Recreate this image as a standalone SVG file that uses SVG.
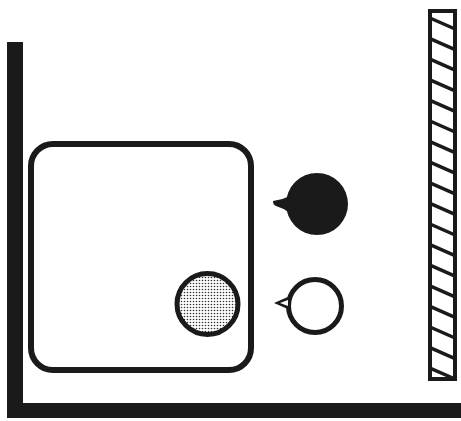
<svg xmlns="http://www.w3.org/2000/svg" width="461" height="421" viewBox="0 0 461 421">
<style>
.ln{fill:none;stroke:#1a1a1a;stroke-linecap:butt;stroke-linejoin:miter}
.blk{fill:#1a1a1a}
</style>
<defs>
<pattern id="dots" width="3" height="3" patternUnits="userSpaceOnUse">
<rect width="3" height="3" fill="#fff"/>
<circle cx="1.5" cy="1.5" r="0.8" fill="#333"/>
</pattern>
</defs>
<g id="walls">
<path class="blk" d="M7,42 L23,42 L23,403 L461,403 L461,418 L7,418 Z"/>
</g>
<g id="box">
<rect class="ln" x="31" y="144" width="220" height="226" rx="22" ry="22" stroke-width="6"/>
</g>
<g id="stipple-circle">
<circle cx="207.5" cy="304" r="30.5" fill="url(#dots)" stroke="#1a1a1a" stroke-width="5"/>
</g>
<g id="black-circle">
<circle class="blk" cx="317" cy="204" r="31"/>
<path class="blk" d="M290,196 Q282,200 273,201 Q273,205 276,206 Q283,208 290,213 Z"/>
</g>
<g id="white-circle">
<circle cx="315" cy="306" r="26.5" fill="#fff" stroke="#1a1a1a" stroke-width="5"/>
<path class="blk" d="M290,296 L274,303 L290,310 Z"/>
<path d="M288,300 L280,303 L288,306 Z" fill="#fff"/>
</g>
<g id="hatch-bar">
<rect class="ln" x="430" y="11" width="25" height="368" stroke-width="4"/>
<path class="ln" stroke-width="3.5" d="M430,18 L455,29 M430,38.6 L455,49.6 M430,59.2 L455,70.2 M430,79.8 L455,90.8 M430,100.4 L455,111.4 M430,121 L455,132 M430,141.6 L455,152.6 M430,162.2 L455,173.2 M430,182.8 L455,193.8 M430,203.4 L455,214.4 M430,224 L455,235 M430,244.6 L455,255.6 M430,265.2 L455,276.2 M430,285.8 L455,296.8 M430,306.4 L455,317.4 M430,327 L455,338 M430,347.6 L455,358.6 M430,368.2 L455,379"/>
</g>
<g id="connectors"></g>
</svg>
